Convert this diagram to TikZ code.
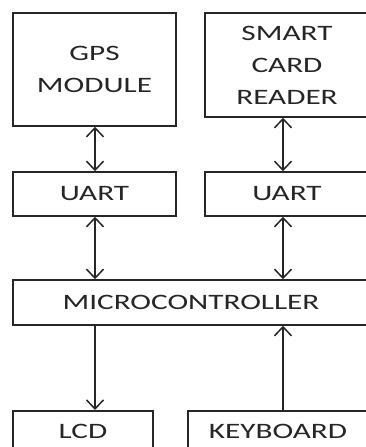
\documentclass[tikz,border=0pt]{standalone}
\usepackage{fontspec}
\newfontfamily\blockfont[FakeStretch=1.42]{Carlito}
\usetikzlibrary{arrows.meta,positioning}

\begin{document}
\begin{tikzpicture}[
    x = 1pt, y = -1pt, % pixel grid, y going down
    >= {Straight Barb[length=9pt,width=17pt]}, % open arrow head
    line width = 1.5pt, % line style
    draw = black!85
    ]

    \tikzset{block/.style={
    draw = black!85,
    line width = 1.5pt,
    fill = white,
    inner sep = 0pt,
    align = center,
    text = black!85,
    font = \blockfont\fontsize{22}{32}\selectfont
    }}
    \tikzset{openblock/.style={
    block,
    anchor = north,
    text height = 27.5pt,
    text depth = 25pt
    }}

    \useasboundingbox (0,0) rectangle (366,447);
    \clip (0,0) rectangle (366,447);

    \coordinate (lx) at (95,0);
    \coordinate (rx) at (283,0);

    \node[block, minimum width=163pt, minimum height=113pt] (gps) at (94.5,69.5) {GPS\\MODULE};
    \node[block, minimum width=164pt, minimum height=104pt] (card) at (287,65) {SMART\\CARD\\READER};
    \node[block, minimum width=163pt, minimum height=44pt] (uart1) at (94.5,194) {UART};
    \node[block, minimum width=164pt, minimum height=44pt] (uart2) at (287,194) {UART};
    \node[block, minimum width=356pt, minimum height=45pt] (mcu) at (191,302.5) {MICROCONTROLLER};
    \node[openblock, minimum width=140pt] (lcd) at (83,410) {LCD};
    \node[openblock, minimum width=180pt] (kbd) at (278,410) {KEYBOARD};

    \draw[<->] (gps.south -| lx) -- (uart1.north -| lx);
    \draw[<->] (card.south -| rx) -- (uart2.north -| rx);
    \draw[<->] (uart1.south -| lx) -- (mcu.north -| lx);
    \draw[<->] (uart2.south -| rx) -- (mcu.north -| rx);
    \draw[->] (mcu.south -| lx) -- (lcd.north -| lx);
    \draw[->] (kbd.north -| rx) -- (mcu.south -| rx);
\end{tikzpicture}
\end{document}
